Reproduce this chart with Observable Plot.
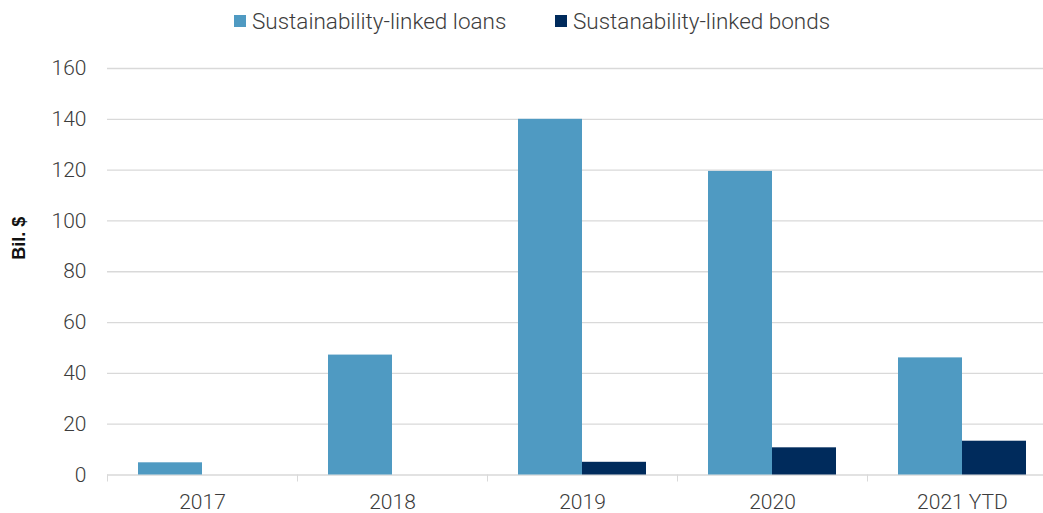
<!DOCTYPE html>
<html><head><meta charset="utf-8">
<script src="https://cdn.jsdelivr.net/npm/d3@7"></script>
<script src="https://cdn.jsdelivr.net/npm/@observablehq/plot@0.6"></script>
<style>
html,body{margin:0;padding:0;overflow:hidden;background:#fff;}
#wrap{position:relative;width:1043px;height:513px;overflow:hidden;}
#chart{position:absolute;left:0;top:0;width:1057px;}
#chart svg{max-width:none !important;}
.item{position:absolute;top:8px;height:26px;line-height:26px;display:flex;align-items:center;font-family:Roboto,sans-serif;font-size:22.5px;font-weight:300;color:#3c3c3c;white-space:nowrap;}
.sw{width:12px;height:12px;margin-right:6px;display:inline-block;}
</style></head><body>
<div id="wrap"><div id="chart"></div><div id="legend"></div></div>
<script>
const years = ["2017", "2018", "2019", "2020", "2021 YTD"];
const seriesNames = ["Sustainability-linked loans", "Sustanability-linked bonds"];
const loans = [4.8, 47.2, 140, 119.5, 46.1];
const bonds = [0, 0, 5, 10.7, 13.3];
const colors = ["#4f9ac2", "#002b5c"];
const yTicks = [0, 20, 40, 60, 80, 100, 120, 140, 160];
const yLabel = "Bil. $";

const loanData = years.map((y, i) => ({year: y, series: seriesNames[0], value: loans[i]}));
const bondData = years.map((y, i) => ({year: y, series: seriesNames[1], value: bonds[i]})).filter(d => d.value > 0);

const plot = Plot.plot({
  width: 1057, height: 513,
  marginLeft: 107, marginRight: 0, marginTop: 68, marginBottom: 38.5,
  style: {fontFamily: "Roboto, sans-serif", fontSize: "21px", color: "#3c3c3c", background: "#fff", maxWidth: "none"},
  x: {domain: years, padding: 0, axis: null},
  y: {domain: [0, 160], axis: null},
  marks: [
    Plot.gridY(yTicks, {stroke: "#d9d9d9", strokeOpacity: 1, strokeWidth: 1.3}),
    Plot.axisY(yTicks, {tickSize: 0, tickPadding: 21, label: null, fontWeight: 300}),
    Plot.axisX(years, {tickSize: 7, tickFormat: () => "", dx: -95, stroke: "#d9d9d9", label: null}),
    Plot.axisX(years, {tickSize: 0, tickPadding: 19.5, label: null, fontWeight: 300}),
    Plot.barY(loanData, {x: "year", y: "value", fill: colors[0], insetLeft: 31, insetRight: 95}),
    Plot.barY(bondData, {x: "year", y: "value", fill: colors[1], insetLeft: 95, insetRight: 31}),
    Plot.text([yLabel], {frameAnchor: "left", dx: -88, dy: -12, rotate: -90, fontWeight: "bold", fontSize: 18, fontFamily: "'Liberation Sans', Arial, sans-serif", fill: "#111"})
  ]
});
document.getElementById("chart").appendChild(plot);

const legend = document.getElementById("legend");
const lefts = [234, 555];
seriesNames.forEach((name, i) => {
  const it = document.createElement("div");
  it.className = "item";
  it.style.left = lefts[i] + "px";
  const sw = document.createElement("span");
  sw.className = "sw";
  sw.style.background = colors[i];
  it.appendChild(sw);
  it.appendChild(document.createTextNode(name));
  legend.appendChild(it);
});
</script>
</body></html>
